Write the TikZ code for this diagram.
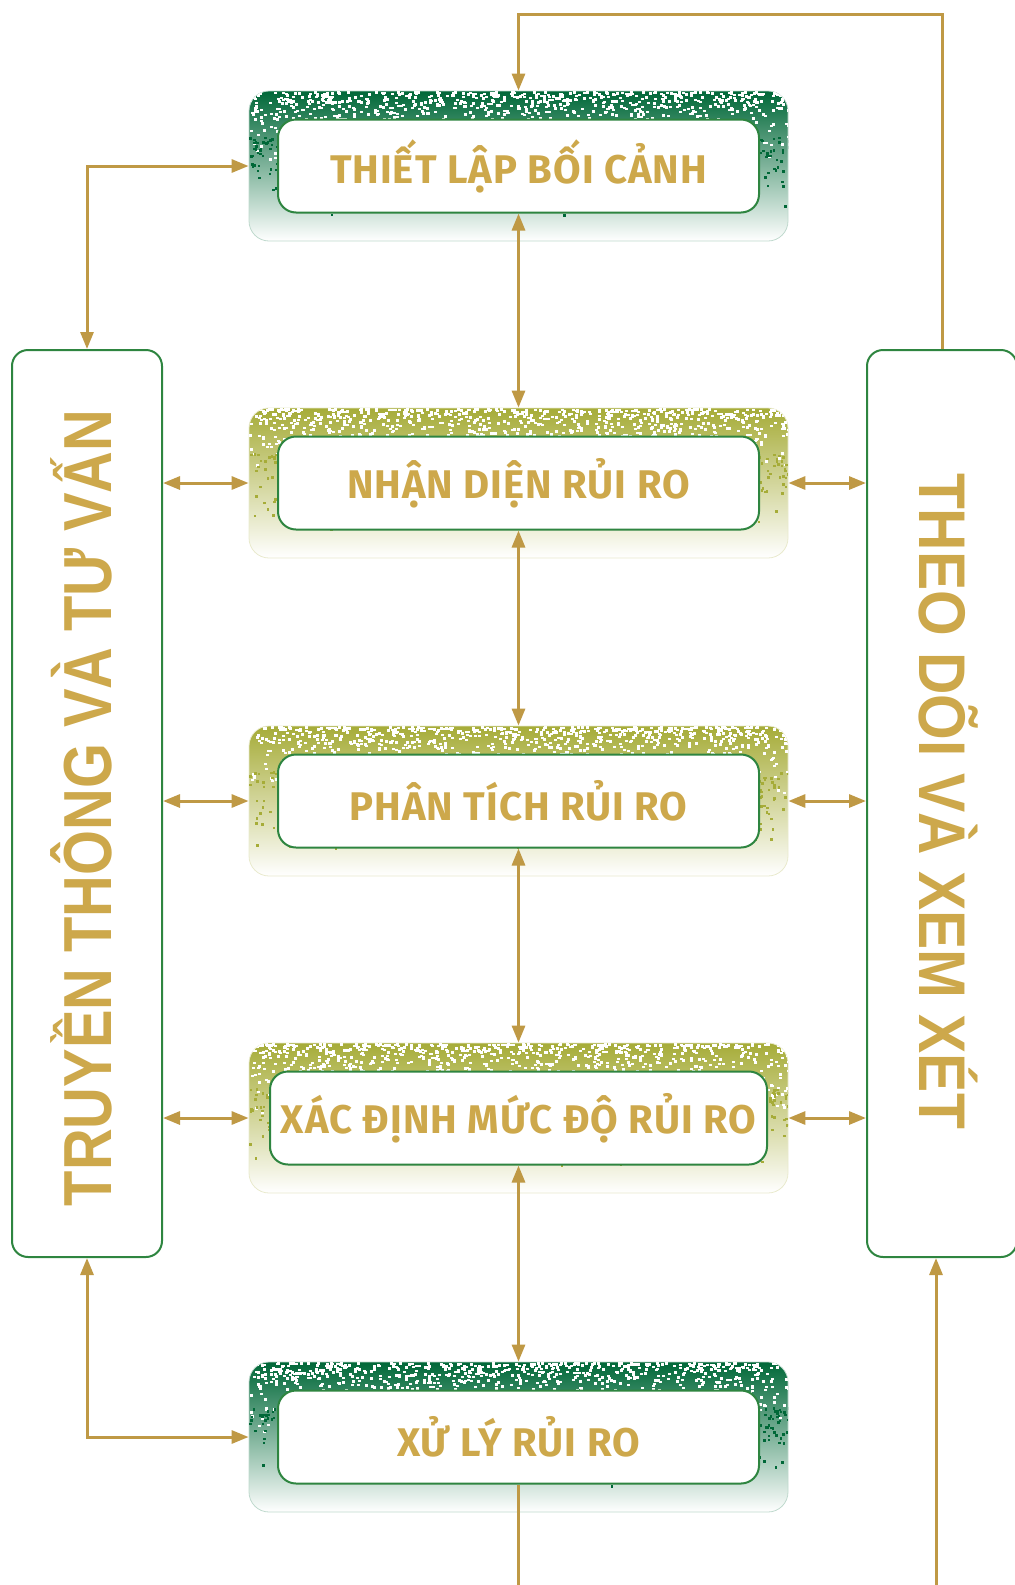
\documentclass[tikz,border=0pt]{standalone}
\usepackage{fontspec}
\usepackage{tikz}
\usetikzlibrary{arrows.meta}
\newfontfamily\labelfont[LetterSpace=2.5]{Fira Sans}
\newfontfamily\leftfont[FakeStretch=0.85]{Liberation Sans}
\newfontfamily\rightfont[FakeStretch=0.89]{Liberation Sans}
\definecolor{dkgreen}{RGB}{0,104,56}
\definecolor{olive}{RGB}{166,172,56}
\definecolor{ltgreen}{RGB}{46,133,64}
\definecolor{gold}{RGB}{191,153,69}
\definecolor{textgold}{RGB}{205,168,75}
\tikzset{
  frame/.style={shape=rectangle, rounded corners=10pt, minimum width=269.5pt, minimum height=75pt, inner sep=0pt,
    top color=#1, middle color=#1!60!white, bottom color=white, draw=#1!25, line width=0.4pt},
  stage/.style={shape=rectangle, draw=ltgreen, line width=1pt, fill=white, rounded corners=9pt,
    minimum width=240.5pt, minimum height=46.5pt, text=textgold, font=\labelfont\bfseries\fontsize{20}{20}\selectfont},
  side/.style={shape=rectangle, draw=ltgreen, line width=1pt, fill=white, rounded corners=8pt,
    minimum width=75pt, minimum height=453.5pt},
  sidetext/.style={text=textgold, inner sep=0pt},
  twoway/.style={draw=gold, line width=1.5pt, {Triangle[length=8.5pt,width=6.5pt]}-{Triangle[length=8.5pt,width=6.5pt]}},
  oneway/.style={draw=gold, line width=1.5pt, -{Triangle[length=8.5pt,width=6.5pt]}},
  plainline/.style={draw=gold, line width=1.5pt}
}
\begin{document}
\begin{tikzpicture}[x=0.5pt, y=-0.5pt]
    \useasboundingbox (0,0) rectangle (1014,1585);
    \pgfmathsetseed{7}
    % speckled frames
    \node[frame=dkgreen] (thietlap) at (518.5,166) {};
    \node[frame=olive] (nhandien) at (518.5,483) {};
    \node[frame=olive] (phantich) at (518.5,801) {};
    \node[frame=olive] (xacdinh) at (518.5,1118) {};
    \node[frame=dkgreen] (xuly) at (518.5,1437) {};
    \foreach \cy/\c in {166/dkgreen, 483/olive, 801/olive, 1118/olive, 1437/dkgreen}{
        \begin{scope}
            \clip[rounded corners=10pt] (249,\cy-75) rectangle (788,\cy+75);
            \foreach \i in {1,...,900}{
                \pgfmathsetmacro\dx{249+539*rnd}
                \pgfmathsetmacro\dy{\cy-75+80*rnd*rnd}
                \fill[white] (\dx,\dy) rectangle ++(3,2.5);
            }
            \foreach \i in {1,...,650}{
                \pgfmathsetmacro\dx{249+539*rnd}
                \pgfmathsetmacro\dy{\cy-30+80*rnd*rnd}
                \fill[\c] (\dx,\dy) rectangle ++(2.5,2.5);
            }
        \end{scope}
    }
    % stages
    \node[stage] (thietlapin) at (thietlap) {THIẾT LẬP BỐI CẢNH};
    \node[stage] (nhandienin) at (nhandien) {NHẬN DIỆN RỦI RO};
    \node[stage] (phantichin) at (phantich) {PHÂN TÍCH RỦI RO};
    \node[stage, minimum width=248.5pt] (xacdinhin) at (xacdinh) {XÁC ĐỊNH MỨC ĐỘ RỦI RO};
    \node[stage] (xulyin) at (xuly) {XỬ LÝ RỦI RO};
    % side boxes
    \node[side] (truyenthong) at (87,803.5) {};
    \node[sidetext, rotate=90, font=\leftfont\bfseries\fontsize{34}{34}\selectfont] (truyenthonglbl) at (81,808) {TRUYỀN THÔNG VÀ TƯ VẤN};
    \node[side] (theodoi) at (942,803.5) {};
    \node[sidetext, rotate=-90, font=\rightfont\bfseries\fontsize{33}{33}\selectfont] (theodoilbl) at (949,801) {THEO DÕI VÀ XEM XÉT};
    % connectors
    \coordinate (loopR) at (941,14);
    \coordinate (endL) at (518.5,1590);
    \coordinate (endR) at (936,1590);
    \draw[oneway] (theodoi.north) -- (theodoi.north |- loopR) -| (thietlap.north);
    \draw[twoway] (truyenthong.north) |- (thietlap.west);
    \draw[twoway] (truyenthong.south) |- (xuly.west);
    \draw[twoway] (thietlapin.south) -- (nhandien.north);
    \draw[twoway] (nhandienin.south) -- (phantich.north);
    \draw[twoway] (phantichin.south) -- (xacdinh.north);
    \draw[twoway] (xacdinhin.south) -- (xuly.north);
    \draw[twoway] (truyenthong.east |- nhandien) -- (nhandien.west);
    \draw[twoway] (truyenthong.east |- phantich) -- (phantich.west);
    \draw[twoway] (truyenthong.east |- xacdinh) -- (xacdinh.west);
    \draw[twoway] (nhandien.east) -- (theodoi.west |- nhandien);
    \draw[twoway] (phantich.east) -- (theodoi.west |- phantich);
    \draw[twoway] (xacdinh.east) -- (theodoi.west |- xacdinh);
    \draw[plainline] (xulyin.south) -- (endL);
    \draw[oneway] (endR) -- (endR |- theodoi.south);
\end{tikzpicture}
\end{document}
